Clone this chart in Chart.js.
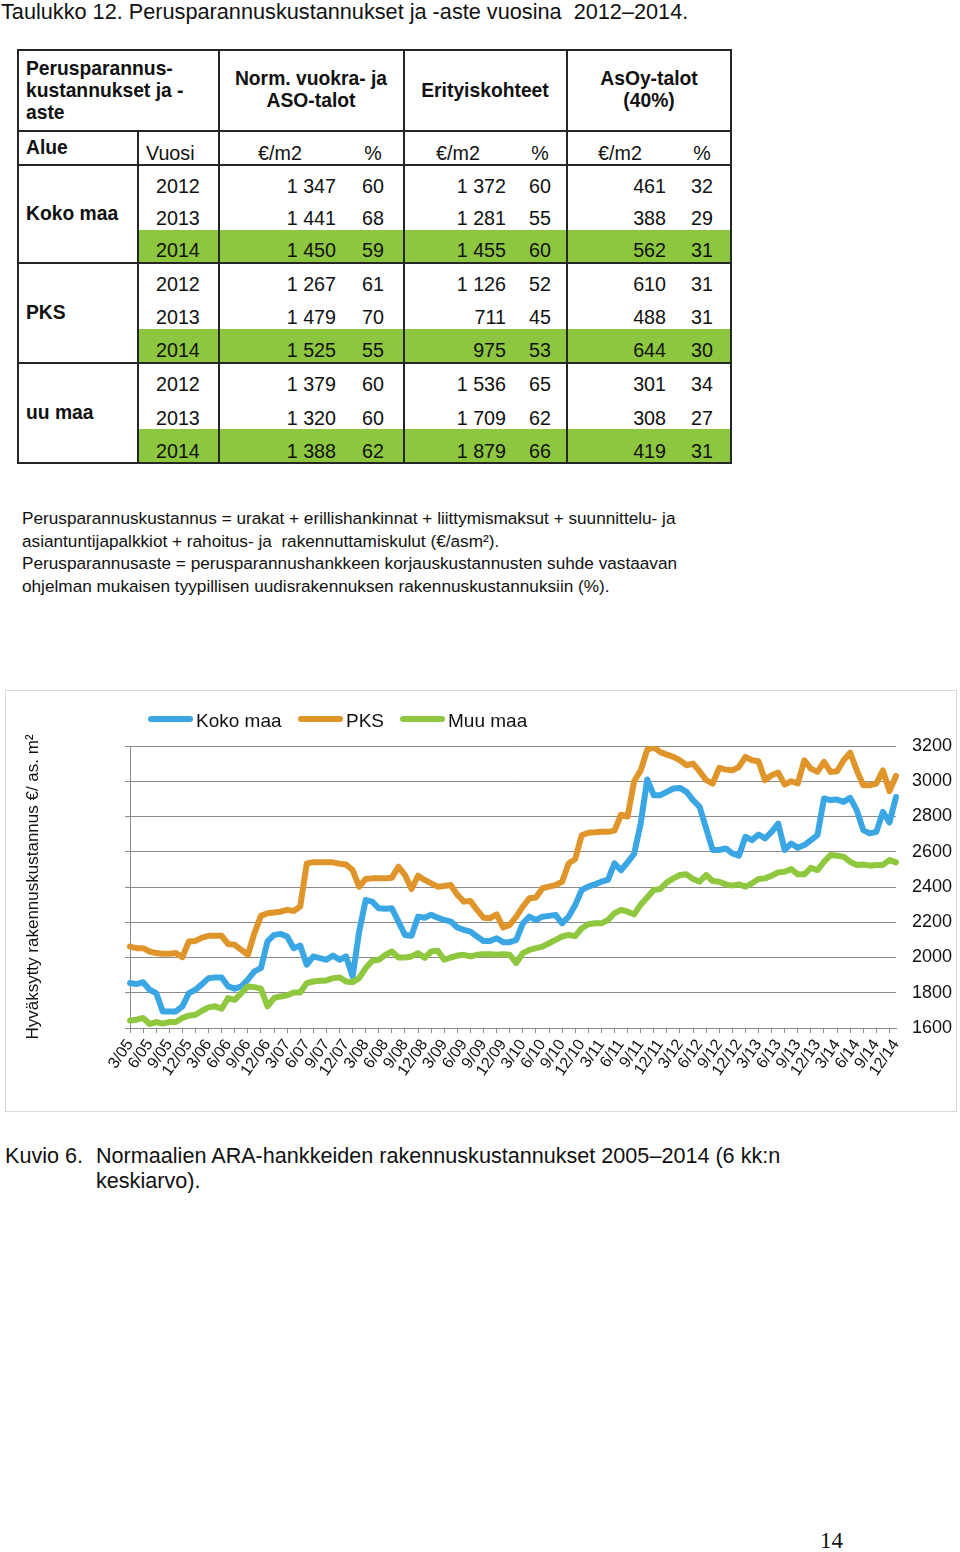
<!DOCTYPE html>
<html>
<head>
<meta charset="utf-8">
<script src="https://cdn.jsdelivr.net/npm/chart.js@4.4.1/dist/chart.umd.min.js"></script>
<style>
html, body { margin: 0; padding: 0; background: #fff; }
body { width: 960px; height: 1552px; position: relative; overflow: hidden;
  font-family: "Liberation Sans", Arial, sans-serif; color: #111; }
.t { position: absolute; white-space: pre; }
.bx { position: absolute; }
#chartBox { position: absolute; left: 5px; top: 690px; width: 952px; height: 422px;
  border: 1px solid #d9d9d9; box-sizing: border-box; }
#chartBox canvas { position: absolute; left: 0; top: 0; }
</style>
</head>
<body>
<div id="chartBox"><canvas id="c" width="950" height="420"></canvas></div>
<script>
// --- table data ---
const regions = ['Koko maa', 'PKS', 'uu maa'];
const years = ['2012', '2013', '2014'];
const normEur = ['1 347', '1 441', '1 450', '1 267', '1 479', '1 525', '1 379', '1 320', '1 388'];
const normPct = ['60', '68', '59', '61', '70', '55', '60', '60', '62'];
const erityEur = ['1 372', '1 281', '1 455', '1 126', '711', '975', '1 536', '1 709', '1 879'];
const erityPct = ['60', '55', '60', '52', '45', '53', '65', '62', '66'];
const asoyEur = ['461', '388', '562', '610', '488', '644', '301', '308', '419'];
const asoyPct = ['32', '29', '31', '31', '31', '30', '34', '27', '31'];

// --- chart data (monthly, 3/05 .. 12/14) ---
const quarterTicks = ['3/05','6/05','9/05','12/05','3/06','6/06','9/06','12/06','3/07','6/07',
  '9/07','12/07','3/08','6/08','9/08','12/08','3/09','6/09','9/09','12/09',
  '3/10','6/10','9/10','12/10','3/11','6/11','9/11','12/11','3/12','6/12',
  '9/12','12/12','3/13','6/13','9/13','12/13','3/14','6/14','9/14','12/14'];

const kokoMaa = [1855,1849,1860,1817,1798,1694,1694,1694,1723,1798,
  1817,1849,1883,1887,1887,1836,1823,1836,1874,1921,
  1940,2091,2128,2134,2119,2053,2068,1959,2006,1996,
  1987,2011,1987,2006,1893,2147,2326,2317,2279,2276,
  2279,2204,2128,2123,2232,2226,2242,2226,2213,2204,
  2170,2157,2147,2119,2094,2094,2109,2087,2087,2100,
  2194,2232,2213,2232,2236,2242,2194,2232,2298,2383,
  2402,2415,2430,2440,2534,2495,2540,2588,2760,3010,
  2921,2921,2940,2959,2962,2940,2893,2855,2732,2610,
  2610,2619,2591,2577,2685,2666,2698,2676,2713,2760,
  2610,2647,2623,2638,2666,2694,2902,2893,2896,2883,
  2906,2836,2723,2704,2713,2826,2766,2911];

const pks = [2062,2053,2053,2034,2025,2021,2021,2025,2002,2091,
  2094,2113,2123,2123,2123,2076,2072,2043,2015,2138,
  2236,2251,2255,2260,2270,2264,2289,2534,2540,2540,
  2540,2540,2532,2528,2496,2402,2445,2449,2449,2449,
  2453,2515,2468,2389,2464,2440,2421,2402,2406,2411,
  2355,2317,2321,2270,2226,2223,2245,2170,2185,2232,
  2289,2336,2340,2393,2402,2411,2430,2534,2559,2694,
  2708,2710,2713,2713,2720,2810,2800,3000,3060,3180,
  3192,3165,3151,3138,3119,3091,3100,3057,3006,2987,
  3076,3066,3062,3081,3138,3119,3113,3006,3034,3049,
  2981,3000,2987,3119,3072,3053,3110,3053,3057,3119,
  3162,3062,2977,2977,2987,3062,2944,3030];

const muuMaa = [1642,1647,1657,1623,1634,1625,1634,1634,1657,1670,
  1675,1698,1717,1723,1709,1770,1760,1798,1836,1832,
  1823,1723,1770,1779,1785,1802,1802,1855,1864,1868,
  1870,1883,1887,1864,1860,1883,1940,1981,1987,2015,
  2034,2000,2000,2006,2025,1998,2034,2038,1987,2000,
  2011,2015,2006,2015,2019,2019,2015,2019,2015,1968,
  2025,2043,2053,2062,2081,2100,2119,2128,2121,2166,
  2189,2194,2194,2213,2251,2270,2260,2245,2300,2340,
  2383,2389,2426,2449,2468,2472,2445,2430,2468,2434,
  2430,2415,2408,2415,2402,2421,2445,2449,2464,2483,
  2487,2502,2472,2472,2509,2496,2543,2581,2577,2572,
  2543,2525,2528,2521,2525,2525,2553,2540];

const seriesNames = ['Koko maa', 'PKS', 'Muu maa'];
const seriesColors = ['#3aa7e4', '#e0952a', '#8fc73e'];

// monthly categories
const months = [];
for (let y = 2005; y <= 2014; y++) {
  for (let m = (y === 2005 ? 3 : 1); m <= 12; m++) {
    months.push(m + '/' + String(y).slice(2));
  }
}

// --- page helpers ---
function txt(str, x, yc, size, opts) {
  opts = opts || {};
  const d = document.createElement('div');
  d.className = 't';
  d.textContent = str;
  const lh = Math.round(size * 1.2);
  d.style.fontSize = size + 'px';
  d.style.lineHeight = lh + 'px';
  d.style.top = (yc - lh / 2) + 'px';
  if (opts.bold) d.style.fontWeight = 'bold';
  if (opts.family) d.style.fontFamily = opts.family;
  if (opts.align === 'right') {
    d.style.left = (x - 300) + 'px'; d.style.width = '300px'; d.style.textAlign = 'right';
  } else if (opts.align === 'center') {
    d.style.left = (x - 150) + 'px'; d.style.width = '300px'; d.style.textAlign = 'center';
  } else {
    d.style.left = x + 'px';
  }
  document.body.appendChild(d);
}
function box(x, y, w, h, color) {
  const d = document.createElement('div');
  d.className = 'bx';
  d.style.left = x + 'px'; d.style.top = y + 'px';
  d.style.width = w + 'px'; d.style.height = h + 'px';
  d.style.background = color;
  document.body.appendChild(d);
  return d;
}

// title
txt('Taulukko 12. Perusparannuskustannukset ja -aste vuosina  2012\u20132014.', 1, 12, 21.7);

// table: green rows
const green = '#8dc63f';
box(138, 230, 593, 33, green);
box(138, 329, 593, 34, green);
box(138, 429, 593, 34, green);

// table lines
const lc = '#262626';
box(17, 49, 715, 1.6, lc);
box(17, 462, 715, 1.6, lc);
box(17, 49, 1.6, 415, lc);
box(730, 49, 1.6, 415, lc);
box(17, 130, 715, 1.6, lc);
box(17, 164, 715, 1.6, lc);
box(17, 262, 715, 1.6, lc);
box(17, 362, 715, 1.6, lc);
box(137, 130, 1.6, 333, lc);
box(218, 49, 1.6, 415, lc);
box(403, 49, 1.6, 415, lc);
box(566, 49, 1.6, 415, lc);

const fb = 19.3;   // bold table text
const fn = 19.7;   // normal table text

// header row
txt('Perusparannus-', 26, 68, fb, {bold: true});
txt('kustannukset ja -', 26, 90, fb, {bold: true});
txt('aste', 26, 112, fb, {bold: true});
txt('Norm. vuokra- ja', 311, 78, fb, {bold: true, align: 'center'});
txt('ASO-talot', 311, 100, fb, {bold: true, align: 'center'});
txt('Erityiskohteet', 485, 90, fb, {bold: true, align: 'center'});
txt('AsOy-talot', 649, 78, fb, {bold: true, align: 'center'});
txt('(40%)', 649, 100, fb, {bold: true, align: 'center'});

// sub header
txt('Alue', 26, 147, fb, {bold: true});
txt('Vuosi', 146, 153, fn);
txt('\u20ac/m2', 280, 153, fn, {align: 'center'});
txt('%', 373, 153, fn, {align: 'center'});
txt('\u20ac/m2', 458, 153, fn, {align: 'center'});
txt('%', 540, 153, fn, {align: 'center'});
txt('\u20ac/m2', 620, 153, fn, {align: 'center'});
txt('%', 702, 153, fn, {align: 'center'});

// data rows
const rowY = [186, 218, 250, 284, 317, 350, 384, 418, 451];
const regionY = [213, 312, 412];
regions.forEach((r, k) => txt(r, 26, regionY[k], fb, {bold: true}));
rowY.forEach((yc, i) => {
  txt(years[i % 3], 156, yc, fn);
  txt(normEur[i], 336, yc, fn, {align: 'right'});
  txt(normPct[i], 384, yc, fn, {align: 'right'});
  txt(erityEur[i], 506, yc, fn, {align: 'right'});
  txt(erityPct[i], 551, yc, fn, {align: 'right'});
  txt(asoyEur[i], 666, yc, fn, {align: 'right'});
  txt(asoyPct[i], 713, yc, fn, {align: 'right'});
});

// notes
const fnote = 17.2;
txt('Perusparannuskustannus = urakat + erillishankinnat + liittymismaksut + suunnittelu- ja', 22, 518, fnote);
txt('asiantuntijapalkkiot + rahoitus- ja  rakennuttamiskulut (\u20ac/asm\u00b2).', 22, 541, fnote);
txt('Perusparannusaste = perusparannushankkeen korjauskustannusten suhde vastaavan', 22, 563, fnote);
txt('ohjelman mukaisen tyypillisen uudisrakennuksen rakennuskustannuksiin (%).', 22, 586, fnote);

// legend (html, above plot)
const legendX = [148, 298, 400];
seriesNames.forEach((n, k) => {
  const l = box(legendX[k], 716, 45, 6, seriesColors[k]);
  l.style.borderRadius = '3px';
  txt(n, legendX[k] + 48, 720, 19);
});

// caption + page number
txt('Kuvio 6.', 5, 1156, 21.6);
txt('Normaalien ARA-hankkeiden rakennuskustannukset 2005\u20132014 (6 kk:n', 96, 1156, 21.6);
txt('keskiarvo).', 96, 1181, 21.6);
txt('14', 820, 1541, 23, {family: '"Liberation Serif", "Times New Roman", serif'});

// --- chart ---
const gridGray = '#8a8a8a';
const font = '"Liberation Sans", Arial, sans-serif';

new Chart(document.getElementById('c'), {
  type: 'line',
  data: {
    labels: months,
    datasets: [
      {label: seriesNames[0], data: kokoMaa, borderColor: seriesColors[0], order: 2},
      {label: seriesNames[1], data: pks, borderColor: seriesColors[1], order: 1},
      {label: seriesNames[2], data: muuMaa, borderColor: seriesColors[2], order: 0}
    ].map(d => Object.assign(d, {
      borderWidth: 6, pointRadius: 0, tension: 0, fill: false,
      borderJoinStyle: 'round', borderCapStyle: 'round', backgroundColor: d.borderColor
    }))
  },
  options: {
    responsive: false,
    animation: false,
    devicePixelRatio: 1,
    layout: {padding: {top: 55, left: 0, right: 0, bottom: 0}},
    plugins: {legend: {display: false}, tooltip: {enabled: false}},
    scales: {
      x: {
        type: 'category',
        ticks: {
          autoSkip: false, minRotation: 55, maxRotation: 55, padding: 3,
          color: '#111', font: {family: font, size: 16},
          callback: (v, i) => (i % 3 === 0 ? quarterTicks[i / 3] : '')
        },
        grid: {
          drawOnChartArea: false, tickLength: 5, color: gridGray,
          tickColor: (ctx) => (ctx.index % 2 === 0 ? gridGray : 'rgba(0,0,0,0)')
        },
        border: {color: gridGray},
        afterFit: (s) => { s.height = 83; }
      },
      y: {
        position: 'left',
        min: 1600, max: 3200,
        ticks: {stepSize: 200, display: false},
        grid: {color: gridGray, tickLength: 5},
        border: {color: gridGray},
        title: {
          display: true, text: 'Hyv\u00e4ksytty rakennuskustannus \u20ac/ as. m\u00b2',
          color: '#111', font: {family: font, size: 17}, padding: {top: 17, bottom: 0}
        },
        afterFit: (s) => { s.width = 124; }
      },
      y2: {
        position: 'right',
        min: 1600, max: 3200,
        ticks: {
          stepSize: 200, padding: 16, color: '#111', font: {family: font, size: 18},
          callback: (v) => String(v)
        },
        grid: {display: false, drawTicks: false},
        border: {display: false},
        afterFit: (s) => { s.width = 60; }
      }
    }
  }
});
</script>
</body>
</html>
